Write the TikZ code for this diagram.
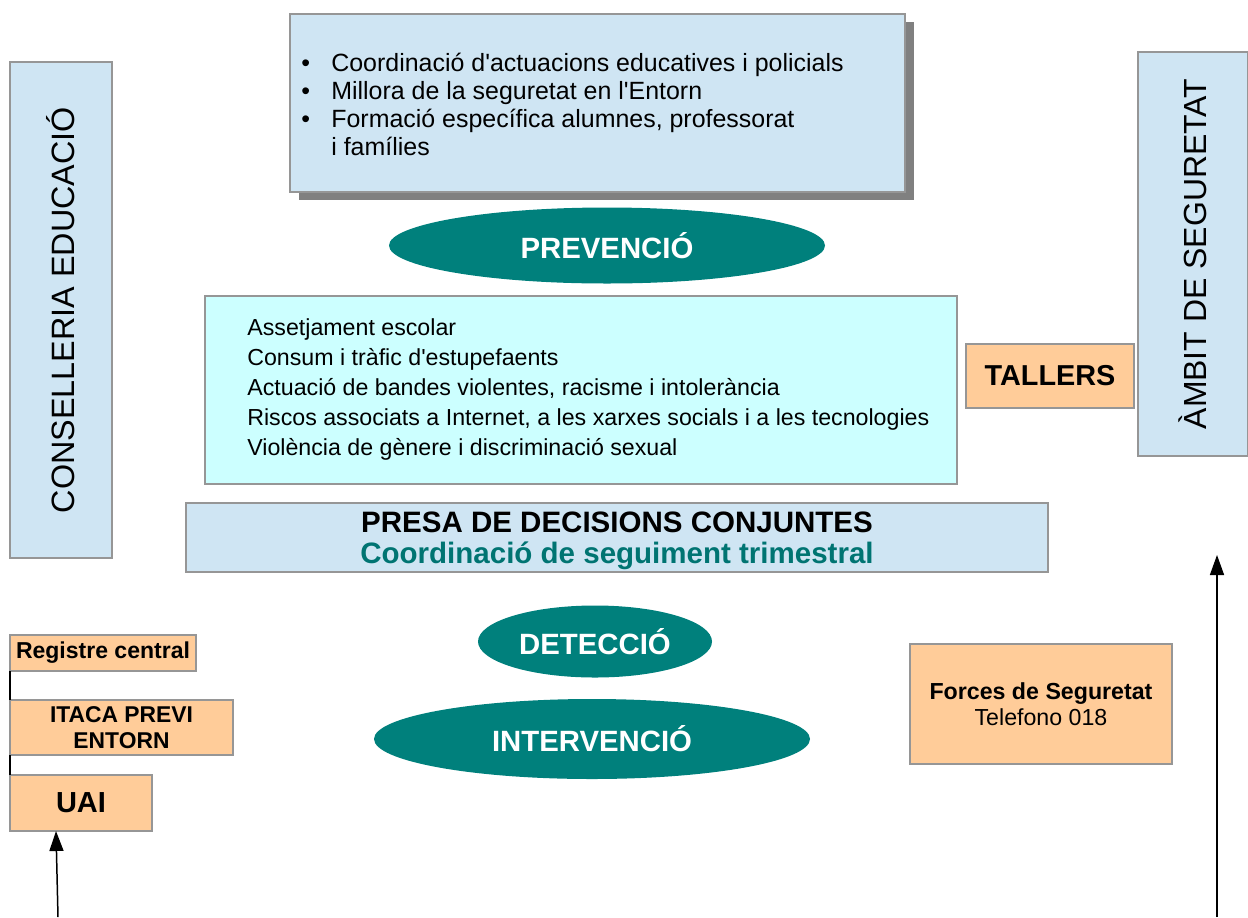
\documentclass[tikz,border=0pt]{standalone}
\usepackage{fontspec}
\setmainfont{Liberation Sans}[Ligatures=TeXOff]
\usetikzlibrary{shapes.geometric}
\usetikzlibrary{shadows}
\usetikzlibrary{arrows.meta}

\definecolor{blauclar}{RGB}{207,229,243}
\definecolor{cian}{RGB}{204,255,255}
\definecolor{pressec}{RGB}{255,204,153}
\definecolor{verdblau}{RGB}{0,128,124}
\definecolor{verdtext}{RGB}{0,116,114}
\definecolor{vora}{RGB}{150,150,150}
\definecolor{ombra}{RGB}{128,128,128}

\newlength\px
\setlength\px{0.02cm}

\begin{document}
\begin{tikzpicture}[x=0.02cm, y=-0.02cm,
        X/.style={draw=vora, line width=0.6pt, inner sep=0pt, outer sep=0pt},
        B/.style={X, fill=blauclar},
        Cy/.style={X, fill=cian},
        P/.style={X, fill=pressec, align=center},
        E/.style={ellipse, fill=verdblau, text=white, inner sep=0pt,
            font=\fontsize{16.7}{20}\selectfont\bfseries},
        arr/.style={line width=0.85pt, -{Triangle[length=0.4cm, width=0.28cm]}}
    ]

    \useasboundingbox (0,0) rectangle (1248,917);

    % prevencio
    \node[B, minimum width=615\px, minimum height=178\px,
        drop shadow={shadow xshift=9\px, shadow yshift=-8\px, fill=ombra, opacity=1}]
        (accions) at (597.5,103) {};
    \node[anchor=west, align=left, inner sep=0pt, font=\fontsize{14.2}{15.9}\selectfont]
        (accions txt) at ([xshift=11\px, yshift=-1.5\px]accions.west)
        {\makebox[30\px][l]{\textbullet}Coordinació d'actuacions educatives i policials\\
        \makebox[30\px][l]{\textbullet}Millora de la seguretat en l'Entorn\\
        \makebox[30\px][l]{\textbullet}Formació específica alumnes, professorat\\
        \hspace*{30\px}i famílies};

    \node[E, minimum width=436\px, minimum height=76\px] (prevencio) at (607,245.5) {PREVENCIÓ};

    \node[Cy, minimum width=752\px, minimum height=188\px] (temes) at (581,390) {};
    \node[anchor=west, align=left, inner sep=0pt, font=\fontsize{13.2}{17.1}\selectfont]
        (temes txt) at ([xshift=42\px, yshift=0.5\px]temes.west)
        {Assetjament escolar\\
        Consum i tràfic d'estupefaents\\
        Actuació de bandes violentes, racisme i intolerància\\
        Riscos associats a Internet, a les xarxes socials i a les tecnologies\\
        Violència de gènere i discriminació sexual};

    \node[P, minimum width=168\px, minimum height=64\px, font=\fontsize{16.4}{20}\selectfont\bfseries]
        (tallers) at (1050,376) {TALLERS};

    % laterals
    \node[B, rotate=90, minimum width=496\px, minimum height=102\px,
        font=\fontsize{18.4}{22}\selectfont] (conselleria) at (61,310) {CONSELLERIA EDUCACIÓ};
    \node[B, rotate=90, minimum width=404\px, minimum height=110\px,
        font=\fontsize{18.2}{22}\selectfont] (ambit) at (1193,254) {ÀMBIT DE SEGURETAT};

    \node[B, minimum width=862\px, minimum height=69\px] (decisions) at (617,537.5) {};
    \node[align=center, inner sep=0pt, font=\fontsize{16.8}{17.6}\selectfont\bfseries]
        (decisions txt) at ([yshift=-3\px]decisions.center)
        {PRESA DE DECISIONS CONJUNTES\\
        \textcolor{verdtext}{Coordinació de seguiment trimestral}};

    % deteccio i intervencio
    \node[E, minimum width=234\px, minimum height=72\px] (deteccio) at (595,641.5) {DETECCIÓ};
    \node[E, minimum width=436\px, minimum height=80\px] (intervencio) at (592,739) {INTERVENCIÓ};

    \node[P, minimum width=186\px, minimum height=36\px, font=\fontsize{13.1}{14.8}\selectfont\bfseries]
        (registre) at (103,653) {\raisebox{-2\px}{Registre central}};
    \node[P, minimum width=223\px, minimum height=55\px, font=\fontsize{13}{14.8}\selectfont\bfseries]
        (itaca) at (121.5,727.5) {ITACA PREVI\\ENTORN};
    \node[P, minimum width=142\px, minimum height=56\px, font=\fontsize{16.5}{20}\selectfont\bfseries]
        (uai) at (81,803) {UAI};

    \node[P, minimum width=262\px, minimum height=120\px, font=\fontsize{13.2}{14.8}\selectfont]
        (forces) at (1041,704) {\textbf{Forces de Seguretat}\\Telefono 018};

    \draw[line width=0.6pt] (registre.south west) -- (itaca.north west);
    \draw[line width=0.6pt] (itaca.south west) -- (uai.north west);

    \coordinate (peu uai) at (58,917);
    \draw[arr] (peu uai) -- ([xshift=46\px]uai.south west);

    \coordinate (peu dreta) at (1217,917);
    \coordinate (cap dreta) at (1217,555);
    \draw[arr] (peu dreta) -- (cap dreta);
\end{tikzpicture}
\end{document}
